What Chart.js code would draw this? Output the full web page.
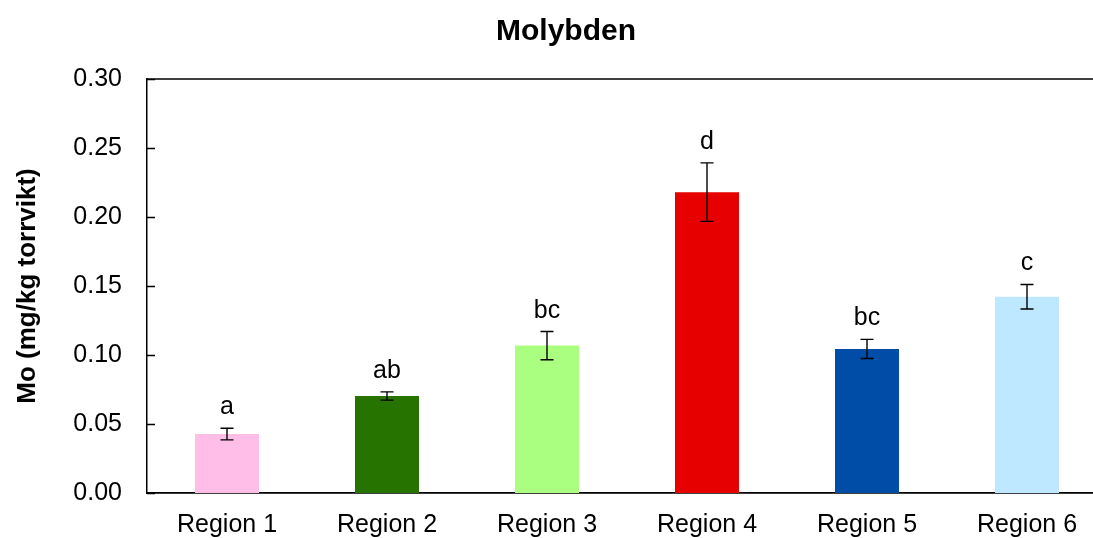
<!DOCTYPE html>
<html>
<head>
<meta charset="utf-8">
<title>Molybden</title>
<script src="https://cdn.jsdelivr.net/npm/chart.js@4/dist/chart.umd.min.js"></script>
<style>
  html, body { margin: 0; padding: 0; background: #fff; overflow: hidden; }
  #wrap { width: 1110px; height: 538px; position: relative; }
</style>
</head>
<body>
<div id="wrap"><canvas id="moChart"></canvas></div>
<script>
// Medelvärden av Mo per region, med standardfel och signifikansbokstäver
const regioner = ['Region 1', 'Region 2', 'Region 3', 'Region 4', 'Region 5', 'Region 6'];
const moMedel = [0.0427, 0.0703, 0.1068, 0.218, 0.1044, 0.1422];
const moFel = [0.0042, 0.0030, 0.0102, 0.0212, 0.0069, 0.0089];
const bokstaver = ['a', 'ab', 'bc', 'd', 'bc', 'c'];
const yTicks = [0, 0.05, 0.10, 0.15, 0.20, 0.25, 0.30];

const farger = ['#FFBEE8', '#267300', '#AAFF80', '#E60000', '#004DA8', '#BEE8FF'];
const typsnitt = "'Liberation Sans', Arial, Helvetica, sans-serif";

// felstaplar, bokstäver, titel och ram ritas efter staplarna
const extraRitning = {
  id: 'extraRitning',
  afterDatasetsDraw(chart) {
    const ctx = chart.ctx;
    const y = chart.scales.y;
    const x = chart.scales.x;
    const area = chart.chartArea;
    ctx.save();

    // felstaplar
    ctx.strokeStyle = '#000';
    ctx.lineWidth = 1.4;
    moMedel.forEach((v, i) => {
      const cx = x.getPixelForValue(i);
      const top = y.getPixelForValue(v + moFel[i]);
      const bot = y.getPixelForValue(v - moFel[i]);
      ctx.beginPath();
      ctx.moveTo(cx, top); ctx.lineTo(cx, bot);
      ctx.moveTo(cx - 6.5, top); ctx.lineTo(cx + 6.5, top);
      ctx.moveTo(cx - 6.5, bot); ctx.lineTo(cx + 6.5, bot);
      ctx.stroke();

      ctx.fillStyle = '#000';
      ctx.font = '25px ' + typsnitt;
      ctx.textAlign = 'center';
      ctx.textBaseline = 'alphabetic';
      ctx.fillText(bokstaver[i], cx, top - 14);
    });

    // ram upptill och inåtvända skalstreck
    ctx.lineWidth = 1.5;
    ctx.beginPath();
    ctx.moveTo(area.left, area.top);
    ctx.lineTo(area.right, area.top);
    yTicks.forEach(t => {
      const py = Math.round(y.getPixelForValue(t)) + 0.5;
      ctx.moveTo(area.left, py);
      ctx.lineTo(area.left + 8, py);
    });
    ctx.stroke();

    // titel
    ctx.font = 'bold 30px ' + typsnitt;
    ctx.textAlign = 'center';
    ctx.fillText('Molybden', 566, 40);
    ctx.restore();
  }
};

new Chart(document.getElementById('moChart'), {
  type: 'bar',
  data: {
    labels: regioner,
    datasets: [{
      data: moMedel,
      backgroundColor: farger,
      borderWidth: 0,
      barPercentage: 0.4,
      categoryPercentage: 1.0
    }]
  },
  options: {
    responsive: true,
    maintainAspectRatio: false,
    animation: false,
    layout: { padding: { top: 79, left: 0, right: 3, bottom: 0 } },
    plugins: {
      legend: { display: false },
      tooltip: { enabled: false }
    },
    scales: {
      x: {
        grid: { display: false, drawTicks: false },
        border: { display: true, color: '#000', width: 1.8 },
        ticks: { color: '#000', padding: 17, font: { family: typsnitt, size: 25 } },
        afterFit(s) { s.height = 45; }
      },
      y: {
        min: 0,
        max: 0.30,
        afterBuildTicks(s) { s.ticks = yTicks.map(v => ({ value: v })); },
        grid: { display: false, drawTicks: false },
        border: { display: true, color: '#000', width: 1.5 },
        ticks: {
          color: '#000',
          padding: 25,
          font: { family: typsnitt, size: 25 },
          callback: v => Number(v).toFixed(2)
        },
        title: {
          display: true,
          text: 'Mo (mg/kg torrvikt)',
          color: '#000',
          font: { family: typsnitt, size: 26, weight: 'bold' },
          padding: { top: 12, bottom: 0 }
        },
        afterFit(s) { s.width = 147; }
      }
    }
  },
  plugins: [extraRitning]
});
</script>
</body>
</html>
